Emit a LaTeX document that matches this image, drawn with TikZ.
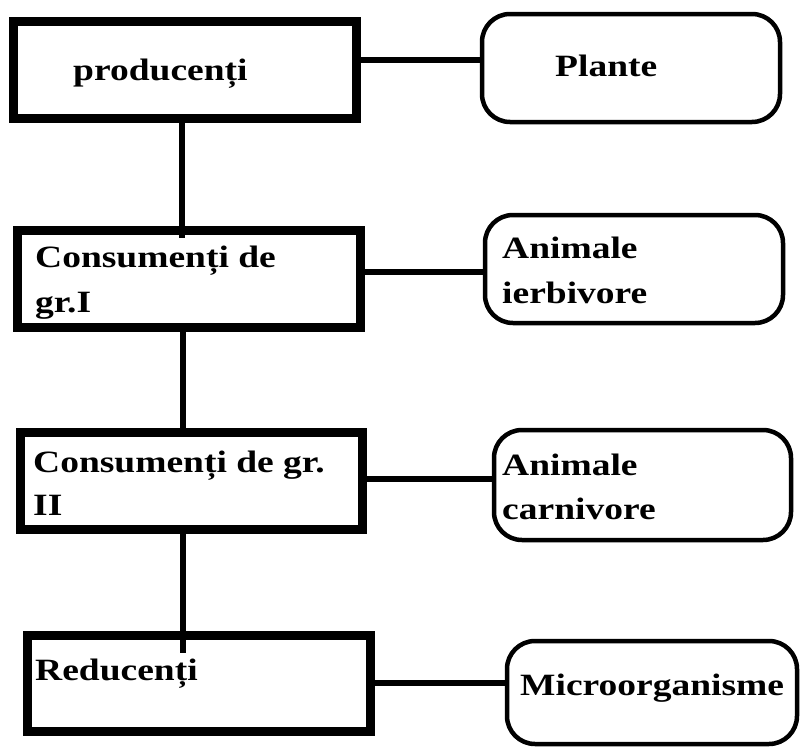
\documentclass[tikz,border=0pt]{standalone}
\usepackage{fontspec}
\newfontfamily\lblfont{Liberation Serif}[FakeStretch=1.21]
\begin{document}
\begin{tikzpicture}[x=1pt,y=-1pt,
  lbox/.style={draw=black,line width=9pt,rectangle,inner sep=0pt,fill=white},
  rbox/.style={draw=black,line width=4.5pt,rectangle,rounded corners=28pt,inner sep=0pt,fill=white},
  conn/.style={draw=black,line width=5.5pt},
  vconn/.style={draw=black,line width=6pt},
  lbl/.style={anchor=base west,inner sep=0pt,font=\lblfont\bfseries\fontsize{31}{44}\selectfont,text=black}]
\useasboundingbox[fill=white] (0,0) rectangle (801,747);
% left boxes
\node[lbox,minimum width=343pt,minimum height=97pt] (b1) at (185,70) {};
\node[lbox,minimum width=343pt,minimum height=97pt] (b2) at (189,279) {};
\node[lbox,minimum width=342pt,minimum height=97pt] (b3) at (191.5,481) {};
\node[lbox,minimum width=343pt,minimum height=96pt] (b4) at (199,683.5) {};
% right boxes
\node[rbox,minimum width=298pt,minimum height=108pt] (r1) at (631,68) {};
\node[rbox,minimum width=298pt,minimum height=108pt] (r2) at (634,269) {};
\node[rbox,minimum width=297pt,minimum height=110pt] (r3) at (642.5,485) {};
\node[rbox,minimum width=290pt,minimum height=103pt] (r4) at (652,692.5) {};
% connectors
\draw[conn] (b1.east |- 0,60) -- (r1.west |- 0,60);
\draw[conn] (b2.east |- 0,272) -- (r2.west |- 0,272);
\draw[conn] (b3.east |- 0,479) -- (r3.west |- 0,479);
\draw[conn] (b4.east |- 0,683) -- (r4.west |- 0,683);
\coordinate (j1) at (182,238);
\coordinate (j3) at (183,653);
\draw[vconn] (b1.south -| 182,0) -- (j1);
\draw[vconn] (b2.south -| 183,0) -- (b3.north -| 183,0);
\draw[vconn] (b3.south -| 183,0) -- (j3);
% labels
\node[lbl] (t1) at (73,80) {producenți};
\node[lbl] (t2a) at (35,267) {Consumenți de};
\node[lbl] (t2b) at (35,312) {gr.I};
\node[lbl] (t3a) at (33,472) {Consumenți de gr.};
\node[lbl] (t3b) at (33,515) {II};
\node[lbl] (t4) at (35,680) {Reducenți};
\node[lbl] (u1) at (555,76) {Plante};
\node[lbl] (u2a) at (502,258) {Animale};
\node[lbl] (u2b) at (502,303) {ierbivore};
\node[lbl] (u3a) at (502,475) {Animale};
\node[lbl] (u3b) at (502,519) {carnivore};
\node[lbl] (u4) at (520,695) {Microorganisme};
\end{tikzpicture}
\end{document}
